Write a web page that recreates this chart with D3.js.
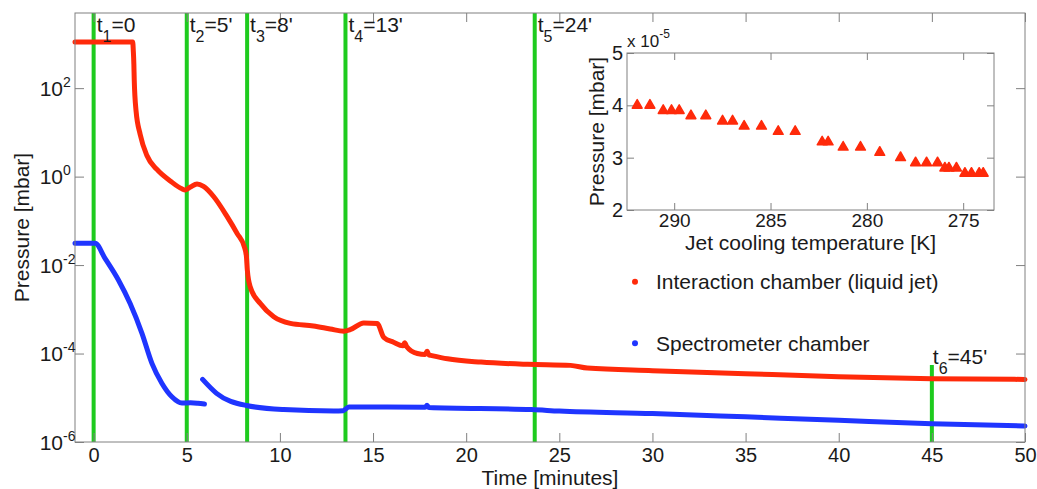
<!DOCTYPE html>
<html>
<head>
<meta charset="utf-8">
<script src="https://cdn.jsdelivr.net/npm/d3@7"></script>
<style>
  html, body { margin: 0; padding: 0; background: #fff; }
  svg { display: block; font-family: "Liberation Sans", Arial, sans-serif; }
</style>
</head>
<body>
<svg id="chart" width="1037" height="489"></svg>
<script>
// Pressure traces during pump-down (time in minutes, pressure in mbar)
const redTime = [-1, 0, 1, 2.0, 2.1, 2.13, 2.16, 2.18, 2.28, 2.5, 2.86, 3.4, 4.11, 4.74, 4.92, 5.2, 5.55, 5.9, 6.44, 7.16, 7.7, 8.1, 8.2, 8.25, 8.41, 8.95, 9.67, 10.56, 11.8, 12.7, 13.43, 13.8, 14.5, 15.22, 15.58, 16.1, 16.6, 16.7, 16.8, 17.38, 17.8, 17.9, 18.0, 18.1, 19.0, 20.8, 23.3, 25.6, 26.5, 30, 35, 40, 45, 50];
const redP = [1100, 1100, 1100, 1100, 1100, 700, 350, 155, 30, 9, 3.0, 1.45, 0.8, 0.53, 0.5, 0.58, 0.68, 0.6, 0.355, 0.126, 0.052, 0.025, 0.016, 0.0078, 0.0032, 0.00135, 0.00068, 0.00048, 0.00042, 0.00036, 0.00032, 0.00035, 0.00049, 0.00048, 0.00023, 0.00018, 0.00015, 0.000175, 0.000145, 0.0001, 0.000095, 0.000112, 0.000093, 0.000091, 0.000076, 0.000064, 0.000057, 0.000054, 0.000047, 0.000041, 0.000035, 0.00003, 0.000027, 0.000026];

const blueTime1 = [-1, 0, 0.08, 0.62, 1.33, 1.96, 2.59, 3.13, 3.67, 4.2, 4.74, 5.2, 5.6, 5.95];
const blueP1 = [0.031, 0.031, 0.031, 0.014, 0.0046, 0.00135, 0.00029, 0.00006, 0.000021, 0.0000105, 0.0000076, 0.0000077, 0.0000075, 0.0000072];
const blueTime2 = [5.85, 6.6, 8.2, 10.2, 12.9, 13.4, 13.7, 17.8, 17.9, 18.0, 23.5, 25, 30, 35, 40, 45, 50];
const blueP2 = [0.000026, 0.0000126, 0.0000067, 0.0000054, 0.000005, 0.0000051, 0.0000062, 0.0000061, 0.0000068, 0.000006, 0.0000054, 0.000005, 0.0000044, 0.0000037, 0.0000031, 0.0000026, 0.0000023];

// Event markers
const eventTimes = [0, 5, 8.24, 13.52, 23.68];
const eventSubs = ["1", "2", "3", "4", "5"];
const eventVals = ["0", "5'", "8'", "13'", "24'"];
const lastEventTime = 45;
const lastEventTop = 0.000055;
const lastEventSub = "6";
const lastEventVal = "45'";

// Axis ticks
const xTicks = [0, 5, 10, 15, 20, 25, 30, 35, 40, 45, 50];
const yTickExps = [-6, -4, -2, 0, 2];

// Inset: chamber pressure vs jet cooling temperature (pressure in 1e-5 mbar)
const insetTemp = [291.92, 291.26, 290.57, 290.14, 289.74, 289.13, 288.36, 287.49, 286.97, 286.37, 285.47, 284.6, 283.72, 282.32, 282.01, 281.23, 280.33, 279.33, 278.25, 277.47, 276.9, 276.33, 275.95, 275.74, 275.35, 274.91, 274.57, 274.17, 273.96];
const insetP = [4.0, 4.0, 3.9, 3.9, 3.9, 3.8, 3.8, 3.7, 3.7, 3.6, 3.6, 3.5, 3.5, 3.3, 3.3, 3.2, 3.2, 3.1, 3.0, 2.9, 2.9, 2.9, 2.8, 2.8, 2.8, 2.7, 2.7, 2.7, 2.7];
const insetXTicks = [290, 285, 280, 275];
const insetYTicks = [2, 3, 4, 5];

const legendItems = ["Interaction chamber (liquid jet)", "Spectrometer chamber"];

// ---- styles ----
const RED = "#ff2a0a", BLUE = "#1f35ff", GREEN = "#1ecb1e", FRAME = "#808080", TXT = "#1a1a1a";
const FS = 21;

const svg = d3.select("#chart");
const box = { left: 75, right: 1025, top: 13, bottom: 442 };

const x = d3.scaleLinear().domain([-1, 50]).range([box.left, box.right]);
const y = d3.scaleLog().domain([1e-6, 5000]).range([box.bottom, box.top]);

const tick = 9;

// event lines (below traces)
const gEv = svg.append("g");
gEv.selectAll("line.ev").data(eventTimes).join("line")
  .attr("x1", d => x(d)).attr("x2", d => x(d))
  .attr("y1", box.top).attr("y2", box.bottom)
  .attr("stroke", GREEN).attr("stroke-width", 4);
gEv.append("line")
  .attr("x1", x(lastEventTime)).attr("x2", x(lastEventTime))
  .attr("y1", y(lastEventTop)).attr("y2", box.bottom)
  .attr("stroke", GREEN).attr("stroke-width", 4);

// traces
const line = d3.line().x(d => x(d[0])).y(d => y(d[1])).curve(d3.curveMonotoneX);
function trace(ts, ps, color) {
  svg.append("path")
    .datum(ts.map((t, i) => [t, ps[i]]))
    .attr("d", line)
    .attr("fill", "none").attr("stroke", color)
    .attr("stroke-width", 5).attr("stroke-linecap", "round").attr("stroke-linejoin", "round");
}
trace(blueTime1, blueP1, BLUE);
trace(blueTime2, blueP2, BLUE);
trace(redTime, redP, RED);

// frame and ticks
svg.append("rect")
  .attr("x", box.left).attr("y", box.top)
  .attr("width", box.right - box.left).attr("height", box.bottom - box.top)
  .attr("fill", "none").attr("stroke", FRAME).attr("stroke-width", 1);

function styleAxis(size) {
  return g => {
    g.select(".domain").remove();
    g.selectAll(".tick line").attr("stroke", FRAME);
    g.selectAll(".tick text").attr("fill", TXT).attr("font-size", size)
      .attr("font-family", "Liberation Sans, Arial, sans-serif");
  };
}

svg.append("g").attr("transform", `translate(0,${box.bottom})`)
  .call(d3.axisBottom(x).tickValues(xTicks).tickSize(-tick).tickPadding(6).tickFormat(d3.format("d")))
  .call(styleAxis(20));
svg.append("g").attr("transform", `translate(0,${box.top})`)
  .call(d3.axisTop(x).tickValues(xTicks).tickSize(-tick).tickFormat(""))
  .call(styleAxis(20));

const yTickVals = yTickExps.map(e => Math.pow(10, e));
svg.append("g").attr("transform", `translate(${box.left},0)`)
  .call(d3.axisLeft(y).tickValues(yTickVals).tickSize(-tick).tickFormat(""))
  .call(styleAxis(20));
svg.append("g").attr("transform", `translate(${box.right},0)`)
  .call(d3.axisRight(y).tickValues(yTickVals).tickSize(-tick).tickFormat(""))
  .call(styleAxis(20));

// power-of-ten labels
const yl = svg.append("g").attr("fill", TXT);
yTickExps.forEach(e => {
  const yy = y(Math.pow(10, e));
  const t = yl.append("text").attr("x", 63).attr("y", yy + 7.5).attr("font-size", FS);
  t.append("tspan").attr("text-anchor", "end").text("10");
  t.append("tspan").attr("x", 63).attr("font-size", 14).attr("dy", -9).text(e);
});

// axis titles
svg.append("text").attr("x", (box.left + box.right) / 2).attr("y", 485)
  .attr("text-anchor", "middle").attr("font-size", FS).attr("fill", TXT).text("Time [minutes]");
svg.append("text").attr("transform", `translate(28.5,${(box.top + box.bottom) / 2}) rotate(-90)`)
  .attr("text-anchor", "middle").attr("font-size", FS).attr("fill", TXT).text("Pressure [mbar]");

// event labels
function eventLabel(xx, yy, sub, val) {
  const t = svg.append("text").attr("x", xx).attr("y", yy).attr("font-size", FS).attr("fill", TXT);
  t.append("tspan").text("t");
  t.append("tspan").attr("font-size", 16).attr("dy", 10).text(sub);
  t.append("tspan").attr("dy", -10).text("=" + val);
}
eventTimes.forEach((d, i) => eventLabel(x(d) + 3, 31.5, eventSubs[i], eventVals[i]));
eventLabel(x(lastEventTime) + 1, 364, lastEventSub, lastEventVal);

// legend
const legendY = [281.7, 343.3];
const legendColors = [RED, BLUE];
legendItems.forEach((name, i) => {
  svg.append("circle").attr("cx", 635).attr("cy", legendY[i]).attr("r", 3).attr("fill", legendColors[i]);
  svg.append("text").attr("x", 656).attr("y", legendY[i] + 7.3).attr("font-size", FS).attr("fill", TXT).text(name);
});

// ---- inset ----
const ib = { left: 627, right: 994, top: 53, bottom: 210 };
const ix = d3.scaleLinear().domain([292.45, 273.4]).range([ib.left, ib.right]);
const iy = d3.scaleLinear().domain([2, 5]).range([ib.bottom, ib.top]);
const itick = 7;

svg.append("rect")
  .attr("x", ib.left).attr("y", ib.top)
  .attr("width", ib.right - ib.left).attr("height", ib.bottom - ib.top)
  .attr("fill", "#fff").attr("stroke", FRAME).attr("stroke-width", 1);

svg.append("g").attr("transform", `translate(0,${ib.bottom})`)
  .call(d3.axisBottom(ix).tickValues(insetXTicks).tickSize(-itick).tickPadding(3).tickFormat(d3.format("d")))
  .call(styleAxis(19));
svg.append("g").attr("transform", `translate(0,${ib.top})`)
  .call(d3.axisTop(ix).tickValues(insetXTicks).tickSize(-itick).tickFormat(""))
  .call(styleAxis(19));
svg.append("g").attr("transform", `translate(${ib.left},0)`)
  .call(d3.axisLeft(iy).tickValues(insetYTicks).tickSize(-itick).tickPadding(4).tickFormat(d3.format("d")))
  .call(styleAxis(20));
svg.append("g").attr("transform", `translate(${ib.right},0)`)
  .call(d3.axisRight(iy).tickValues(insetYTicks).tickSize(-itick).tickFormat(""))
  .call(styleAxis(20));

const tri = d3.symbol().type(d3.symbolTriangle).size(42);
svg.append("g").selectAll("path").data(insetTemp.map((t, i) => [t, insetP[i]])).join("path")
  .attr("transform", d => `translate(${ix(d[0])},${iy(d[1])})`)
  .attr("d", tri)
  .attr("fill", RED).attr("stroke", RED).attr("stroke-width", 1.5).attr("stroke-linejoin", "round");

// inset labels
svg.append("text").attr("x", (ib.left + ib.right) / 2).attr("y", 250)
  .attr("text-anchor", "middle").attr("font-size", FS).attr("fill", TXT).text("Jet cooling temperature [K]");
svg.append("text").attr("transform", `translate(603.5,${(ib.top + ib.bottom) / 2}) rotate(-90)`)
  .attr("text-anchor", "middle").attr("font-size", FS).attr("fill", TXT).text("Pressure [mbar]");
const sc = svg.append("text").attr("x", ib.left).attr("y", 46.5).attr("font-size", 17).attr("fill", TXT);
sc.append("tspan").text("x 10");
sc.append("tspan").attr("font-size", 12).attr("dy", -9).text("-5");
</script>
</body>
</html>
